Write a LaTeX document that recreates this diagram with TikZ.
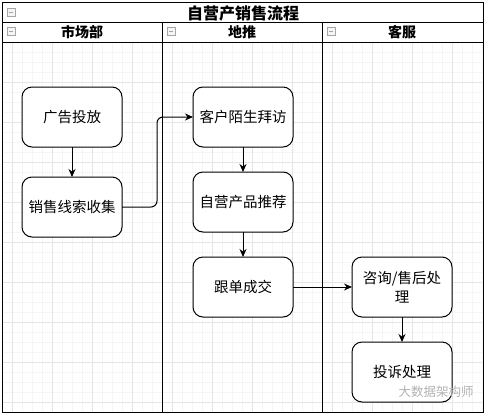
\documentclass[tikz,border=0pt]{standalone}
\usepackage{fontspec}
\newfontfamily\cjk{Noto Sans CJK SC}
\usetikzlibrary{positioning,arrows.meta}

\tikzset{
  proc/.style={draw, line width=1pt, rounded corners=10pt, fill=white,
    minimum width=100pt, minimum height=60pt, align=center, outer sep=0pt,
    font=\cjk\fontsize{14.5}{19}\selectfont},
  flow/.style={line width=1pt, -{Stealth[length=8pt,width=7pt]}},
  lanehead/.style={font=\cjk\bfseries\fontsize{14}{16}\selectfont},
  lanefold/.style={draw=gray!70, fill=gray!8, minimum size=8pt, inner sep=0pt,
    path picture={\draw[line width=1pt] ([xshift=2pt]path picture bounding box.west)
      -- ([xshift=-2pt]path picture bounding box.east);}},
  minorgrid/.style={draw=black!4, line width=0.5pt},
  majorgrid/.style={draw=black!10, line width=0.5pt}
}

\begin{document}
\begin{tikzpicture}[x=1pt, y=-1pt]
            
            \useasboundingbox[fill=white] (0,0) rectangle (486,415);
            
            % Grid
            
            \begin{scope}[shift={(2,2)}]
              \draw[minorgrid, step=10pt] (1,41) grid (480,410);
            \end{scope}
            \begin{scope}[shift={(12,2)}]
              \draw[majorgrid, step=40pt] (-9,41) grid (470,410);
            \end{scope}
            
            % Pool and lanes
            
            \draw[line width=1pt] (2,2) rectangle (483,412);
            \draw[line width=1pt] (2,22) -- (483,22);
            \draw[line width=1pt] (2,42) -- (483,42);
            \foreach \lx in {162,322}
              \draw[line width=1pt] (\lx,22) -- (\lx,412);
            
            \node[font=\cjk\bfseries\fontsize{16}{18}\selectfont] (pool) at (243,13) {自营产销售流程};
            \node[lanehead] (market) at (82,32) {市场部};
            \node[lanehead] (field) at (242,32) {地推};
            \node[lanehead] (support) at (402,32) {客服};
            \node[lanefold] (fold0) at (11,12) {};
            \node[lanefold] (fold1) at (11,31) {};
            \node[lanefold] (fold2) at (171,31) {};
            \node[lanefold] (fold3) at (331,31) {};
            
            % Nodes
            
            \node[proc] (ad) at (72,117) {广告投放};
            \node[proc, below=30pt of ad] (leads) {销售线索收集};
            \node[proc] (visit) at (243,117) {客户陌生拜访};
            \node[proc, below=25pt of visit] (recommend) {自营产品推荐};
            \node[proc, below=25pt of recommend] (deal) {跟单成交};
            \node[proc, right=59pt of deal] (service) {咨询/售后处\\理};
            \node[proc, below=25pt of service] (complaint) {投诉处理};
            
            \node[text=black!30, font=\cjk\fontsize{12.5}{14}\selectfont] (mark) at (436,392) {大数据架构师};
            
            % Edges
            
            \draw[flow] (ad) -- (leads);
            \draw[flow, rounded corners=6pt] (leads.east) -- ++(35,0) |- (visit.west);
            \draw[flow] (visit) -- (recommend);
            \draw[flow] (recommend) -- (deal);
            \draw[flow] (deal) -- (service);
            \draw[flow] (service) -- (complaint);
            
\end{tikzpicture}
\end{document}
